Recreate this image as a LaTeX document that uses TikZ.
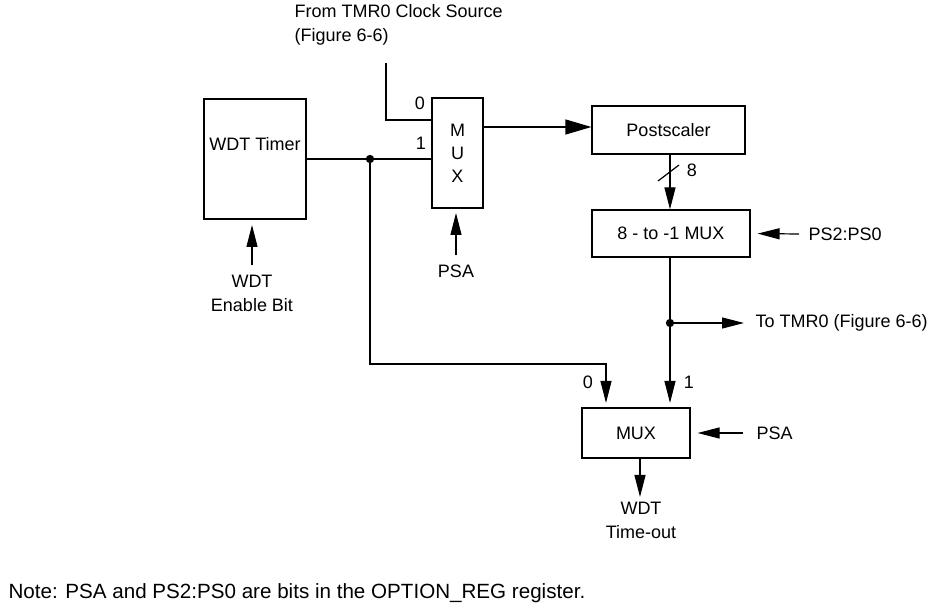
\documentclass[tikz,border=0pt]{standalone}
\usepackage{fontspec}
\setmainfont{Liberation Sans}
\usetikzlibrary{positioning}
\usetikzlibrary{arrows.meta,calc}

\begin{document}
\begin{tikzpicture}
  [x=0.5pt,y=-0.5pt,line width=0.6pt,font=\fontsize{9}{12}\selectfont,
  box/.style={rectangle,draw=black,inner sep=0pt,align=center},
  dot/.style={circle,draw=black,fill=black,inner sep=0pt,minimum size=3.5pt},
  txt/.style={inner sep=0pt,align=center},
  arr/.style={-{Triangle[length=11pt,width=5.5pt]}},
  bigarr/.style={-{Triangle[length=13pt,width=7.5pt]}}]
  \useasboundingbox (0,0) rectangle (939,615);

  \node[box,minimum width=51pt,minimum height=60pt] (wdt) at (255,159) {};
  \node[txt] (wdtname) at (255,144) {WDT Timer};
  \node[box,minimum width=25.5pt,minimum height=55pt,font=\fontsize{9}{11.5}\selectfont] (mux1) at (457.5,153) {M\\U\\X};
  \node[box,minimum width=76.5pt,minimum height=24pt] (post) at (668.5,130) {Postscaler};
  \node[box,minimum width=79pt,minimum height=23.5pt] (mux8) at (671,233.5) {8 - to -1 MUX};
  \node[box,minimum width=54pt,minimum height=25pt] (mux2) at (636,433) {MUX};

  \node[txt,anchor=west,align=left] (src) at (294,24.5) {From TMR0 Clock Source\\(Figure 6-6)};
  \node[txt] (en) at (252,293) {WDT\\Enable Bit};
  \node[txt] (psa1) at (456,271) {PSA};
  \node[txt,anchor=west] (ps) at (808,234) {PS2:PS0};
  \node[txt,anchor=west] (totmr) at (755,323) {To TMR0 (Figure 6-6)};
  \node[txt,anchor=west] (psa2) at (756,433) {PSA};
  \node[txt] (out) at (641,520) {WDT\\Time-out};
  \node[txt,anchor=west,font=\fontsize{10.3}{12}\selectfont] (note) at (8,593) {Note: PSA and PS2:PS0 are bits in the OPTION\_REG register.};

  \node[dot] (j1) at (370,159) {};
  \node[dot] (j2) at (670,323) {};
  \coordinate (srctop) at (386,63);
  \coordinate (in0) at (432,120);
  \coordinate (out1) at (483,127);
  \coordinate (bend) at (606,364);
  \coordinate (in0b) at (606,408);
  \coordinate (in1b) at (670,408);
  \coordinate (enfoot) at (252,265);
  \coordinate (psafoot) at (456,255);

  % mux inputs
  \draw (srctop) |- (in0);
  \draw (wdt.east) -- (wdt.east -| mux1.west);
  \node[txt] (l0) at (420,103) {0};
  \node[txt] (l1) at (421,143) {1};
  \draw[bigarr] (out1) -- (out1 -| post.west);
  \draw[arr] (enfoot) -- (enfoot |- 0,225);
  \draw[arr] (psafoot) -- (psafoot |- 0,213);

  % postscaler and 8 to 1
  \draw[arr] (post.south -| 670,0) -- (mux8.north -| 670,0);
  \draw (658,181) -- (679,165);
  \node[txt] (l8) at (692,170) {8};
  \draw[arr,shorten >=3.5pt] (799,234) -- (mux8.east);
  \draw (mux8.south -| j2) -- (j2);
  \draw[arr,shorten >=5.5pt] (j2) -- (totmr.west);
  \draw[arr,shorten >=2.5pt] (j2) -- (in1b);

  % output mux
  \draw[arr,shorten >=2.5pt] (j1) |- (bend) -- (in0b);
  \node[txt] (m0) at (588,382) {0};
  \node[txt] (m1) at (689,382) {1};
  \draw[arr,shorten >=3.5pt] (743,433) -- (mux2.east);
  \draw[arr] (mux2.south -| 640,0) -- (640,497);
\end{tikzpicture}
\end{document}
